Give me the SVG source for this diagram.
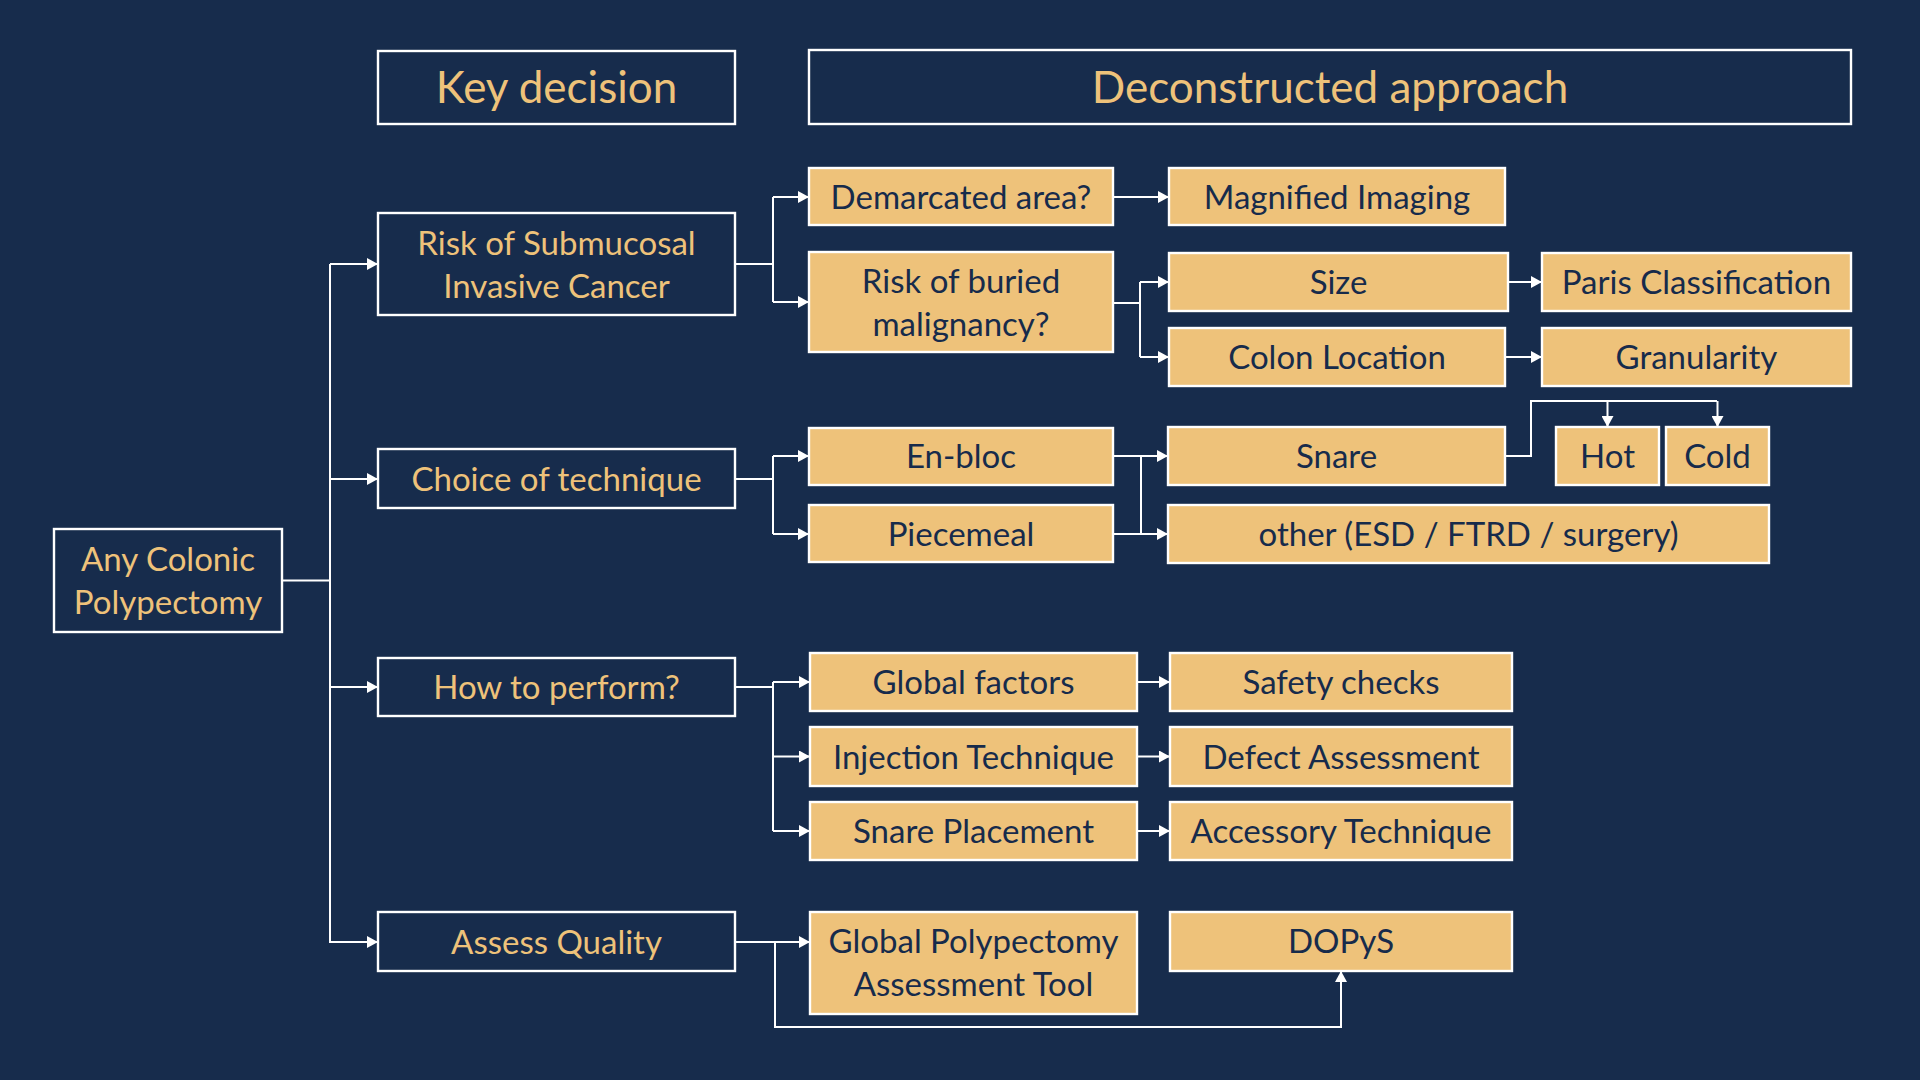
<svg xmlns="http://www.w3.org/2000/svg" width="1920" height="1080" viewBox="0 0 1920 1080">
<defs>
<style>
.bg{fill:#172C4C}
.dk{fill:none;stroke:#FFFFFF;stroke-width:2.4}
.or{fill:#EEC27A;stroke:#FFFFFF;stroke-width:2.4}
.tl{font-family:Lato,"Liberation Sans",sans-serif;font-size:33px;fill:#EEC27A;text-anchor:middle}
.td{font-family:Lato,"Liberation Sans",sans-serif;font-size:33px;fill:#172B4B;text-anchor:middle}
.th{font-family:Lato,"Liberation Sans",sans-serif;font-size:44px;fill:#EEC27A;text-anchor:middle}
.ln{fill:none;stroke:#FFFFFF;stroke-width:2}
.ar{fill:none;stroke:#FFFFFF;stroke-width:2;marker-end:url(#arr)}
</style>
<marker id="arr" markerWidth="11" markerHeight="12" refX="11" refY="6" orient="auto" markerUnits="userSpaceOnUse">
<path d="M0,0 L11,6 L0,12 z" fill="#FFFFFF"/>
</marker>
</defs>
<rect class="bg" x="0" y="0" width="1920" height="1080"/>

<g id="connectors">
<path class="ln" d="M282,580.5 H330 M330,264 V943"/>
<path class="ar" d="M330,264 H378"/>
<path class="ar" d="M330,479 H378"/>
<path class="ar" d="M330,687 H378"/>
<path class="ar" d="M330,942 H378"/>

<path class="ln" d="M735,264 H773 M773,197 V302"/>
<path class="ar" d="M773,197 H809"/>
<path class="ar" d="M773,302 H809"/>
<path class="ar" d="M1113,197 H1169"/>

<path class="ln" d="M1113,303 H1140 M1140,282 V357"/>
<path class="ar" d="M1140,282 H1169"/>
<path class="ar" d="M1140,357 H1169"/>
<path class="ar" d="M1508,282 H1542"/>
<path class="ar" d="M1505,357 H1542"/>

<path class="ln" d="M735,479 H773 M773,456 V534"/>
<path class="ar" d="M773,456 H809"/>
<path class="ar" d="M773,534 H809"/>

<path class="ln" d="M1113,456 H1141 M1113,534 H1141 M1141,456 V534"/>
<path class="ar" d="M1141,456 H1168"/>
<path class="ar" d="M1141,534 H1168"/>

<path class="ln" d="M1505,456 H1531 V401 H1717"/>
<path class="ar" d="M1607.5,401 V427"/>
<path class="ar" d="M1717.5,401 V427"/>

<path class="ln" d="M735,687 H773 M773,682 V831"/>
<path class="ar" d="M773,682 H810"/>
<path class="ar" d="M773,756.5 H810"/>
<path class="ar" d="M773,831 H810"/>
<path class="ar" d="M1137,682 H1170"/>
<path class="ar" d="M1137,756.5 H1170"/>
<path class="ar" d="M1137,831 H1170"/>

<path class="ar" d="M735,942 H810"/>
<path class="ar" d="M775,942 V1027 H1341 V971"/>
</g>

<g id="header-key"><rect class="dk" x="378" y="51" width="357" height="73"/><text class="th" x="556.5" y="103">Key decision</text></g>
<g id="header-approach"><rect class="dk" x="809" y="50" width="1042" height="74"/><text class="th" x="1330" y="103">Deconstructed approach</text></g>

<g id="any-colonic"><rect class="dk" x="54" y="529" width="228" height="103"/><text class="tl" x="168" y="571">Any Colonic</text><text class="tl" x="168" y="614">Polypectomy</text></g>
<g id="risk-submucosal"><rect class="dk" x="378" y="213" width="357" height="102"/><text class="tl" x="556.5" y="255">Risk of Submucosal</text><text class="tl" x="556.5" y="298">Invasive Cancer</text></g>
<g id="choice"><rect class="dk" x="378" y="449" width="357" height="59"/><text class="tl" x="556.5" y="490.5">Choice of technique</text></g>
<g id="how"><rect class="dk" x="378" y="658" width="357" height="58"/><text class="tl" x="556.5" y="699">How to perform?</text></g>
<g id="assess"><rect class="dk" x="378" y="912" width="357" height="59"/><text class="tl" x="556.5" y="953.5">Assess Quality</text></g>

<g id="demarcated"><rect class="or" x="809" y="168" width="304" height="57"/><text class="td" x="961" y="208.5">Demarcated area?</text></g>
<g id="buried"><rect class="or" x="809" y="252" width="304" height="100"/><text class="td" x="961" y="292.5">Risk of buried</text><text class="td" x="961" y="335.5">malignancy?</text></g>
<g id="magnified"><rect class="or" x="1169" y="168" width="336" height="57"/><text class="td" x="1337" y="208.5">Magnified Imaging</text></g>
<g id="size"><rect class="or" x="1169" y="253" width="339" height="58"/><text class="td" x="1338.5" y="294">Size</text></g>
<g id="colon-location"><rect class="or" x="1169" y="328" width="336" height="58"/><text class="td" x="1337" y="369">Colon Location</text></g>
<g id="paris"><rect class="or" x="1542" y="253" width="309" height="58"/><text class="td" x="1696.5" y="294">Paris Classification</text></g>
<g id="granularity"><rect class="or" x="1542" y="328" width="309" height="58"/><text class="td" x="1696.5" y="369">Granularity</text></g>

<g id="en-bloc"><rect class="or" x="809" y="428" width="304" height="57"/><text class="td" x="961" y="468">En-bloc</text></g>
<g id="piecemeal"><rect class="or" x="809" y="505" width="304" height="57"/><text class="td" x="961" y="545.5">Piecemeal</text></g>
<g id="snare"><rect class="or" x="1168" y="427" width="337" height="58"/><text class="td" x="1336.5" y="468">Snare</text></g>
<g id="hot"><rect class="or" x="1556" y="427" width="103" height="58"/><text class="td" x="1607.5" y="468">Hot</text></g>
<g id="cold"><rect class="or" x="1666" y="427" width="103" height="58"/><text class="td" x="1717.5" y="468">Cold</text></g>
<g id="other"><rect class="or" x="1168" y="505" width="601" height="58"/><text class="td" x="1468.5" y="546">other (ESD / FTRD / surgery)</text></g>

<g id="global-factors"><rect class="or" x="810" y="653" width="327" height="58"/><text class="td" x="973.5" y="694">Global factors</text></g>
<g id="injection"><rect class="or" x="810" y="727" width="327" height="59"/><text class="td" x="973.5" y="768.5">Injection Technique</text></g>
<g id="snare-placement"><rect class="or" x="810" y="802" width="327" height="58"/><text class="td" x="973.5" y="843">Snare Placement</text></g>
<g id="safety"><rect class="or" x="1170" y="653" width="342" height="58"/><text class="td" x="1341" y="694">Safety checks</text></g>
<g id="defect"><rect class="or" x="1170" y="727" width="342" height="59"/><text class="td" x="1341" y="768.5">Defect Assessment</text></g>
<g id="accessory"><rect class="or" x="1170" y="802" width="342" height="58"/><text class="td" x="1341" y="843">Accessory Technique</text></g>

<g id="gpat"><rect class="or" x="810" y="912" width="327" height="102"/><text class="td" x="973.5" y="953">Global Polypectomy</text><text class="td" x="973.5" y="996">Assessment Tool</text></g>
<g id="dopys"><rect class="or" x="1170" y="912" width="342" height="59"/><text class="td" x="1341" y="953">DOPyS</text></g>
</svg>
